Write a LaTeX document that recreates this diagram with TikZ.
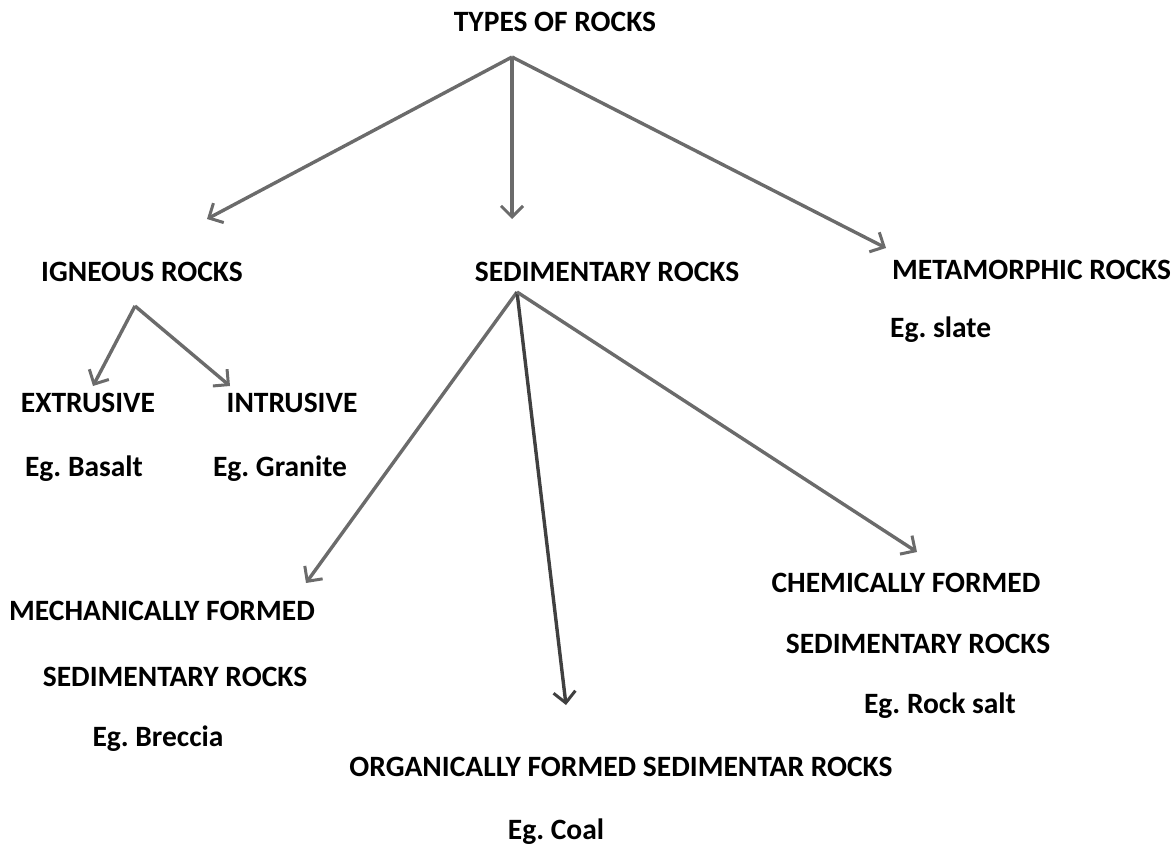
\documentclass[tikz,border=0pt]{standalone}
\usepackage{fontspec}
\setmainfont{Carlito}
\usetikzlibrary{arrows.meta}
\frenchspacing
\begin{document}
\begin{tikzpicture}[x=1pt,y=-1pt,
  lbl/.style={font=\bfseries\fontsize{29.5}{34}\selectfont, inner sep=0pt, anchor=center},
  arr/.style={draw=black!58, line width=3.4pt,
    -{Straight Barb[length=11pt,width=22pt,line width=3pt]}}]
\useasboundingbox (0,0) rectangle (1173,849);
% labels
\node[lbl] (types) at (555,22) {TYPES OF ROCKS};
\node[lbl] (ign) at (142,272) {IGNEOUS ROCKS};
\node[lbl] (sed) at (607,272) {SEDIMENTARY ROCKS};
\node[lbl, anchor=west] (met) at (892,270) {METAMORPHIC ROCKS};
\node[lbl, anchor=west] (slate) at (890,330) {Eg. slate};
\node[lbl] (ext) at (88,403) {EXTRUSIVE};
\node[lbl] (int) at (292,403) {INTRUSIVE};
\node[lbl] (bas) at (84,469) {Eg. Basalt};
\node[lbl] (gra) at (280,469) {Eg. Granite};
\node[lbl] (mech1) at (162,611) {MECHANICALLY FORMED};
\node[lbl] (mech2) at (175,677) {SEDIMENTARY ROCKS};
\node[lbl] (brec) at (158,739) {Eg. Breccia};
\node[lbl] (chem1) at (906,583) {CHEMICALLY FORMED};
\node[lbl] (chem2) at (918,644) {SEDIMENTARY ROCKS};
\node[lbl] (salt) at (940,706) {Eg. Rock salt};
\node[lbl] (org) at (621,767) {ORGANICALLY FORMED SEDIMENTAR ROCKS};
\node[lbl] (coal) at (556,832) {Eg. Coal};
% connector points
\coordinate (tA) at (512,57);
\coordinate (iA) at (135,306);
\coordinate (sA) at (517,292);
\coordinate (toIgn) at (207,219);
\coordinate (toSed) at (512,219);
\coordinate (toMet) at (886,248);
\coordinate (toExt) at (93,386);
\coordinate (toInt) at (230,386);
\coordinate (toMech) at (306,583);
\coordinate (toOrg) at (566,705);
\coordinate (toChem) at (917,552);
% connectors
\draw[arr] (tA) -- (toIgn);
\draw[arr] (tA) -- (toSed);
\draw[arr] (tA) -- (toMet);
\draw[arr] (iA) -- (toExt);
\draw[arr] (iA) -- (toInt);
\draw[arr] (sA) -- (toMech);
\draw[arr, draw=black!75] (sA) -- (toOrg);
\draw[arr] (sA) -- (toChem);
\end{tikzpicture}
\end{document}
